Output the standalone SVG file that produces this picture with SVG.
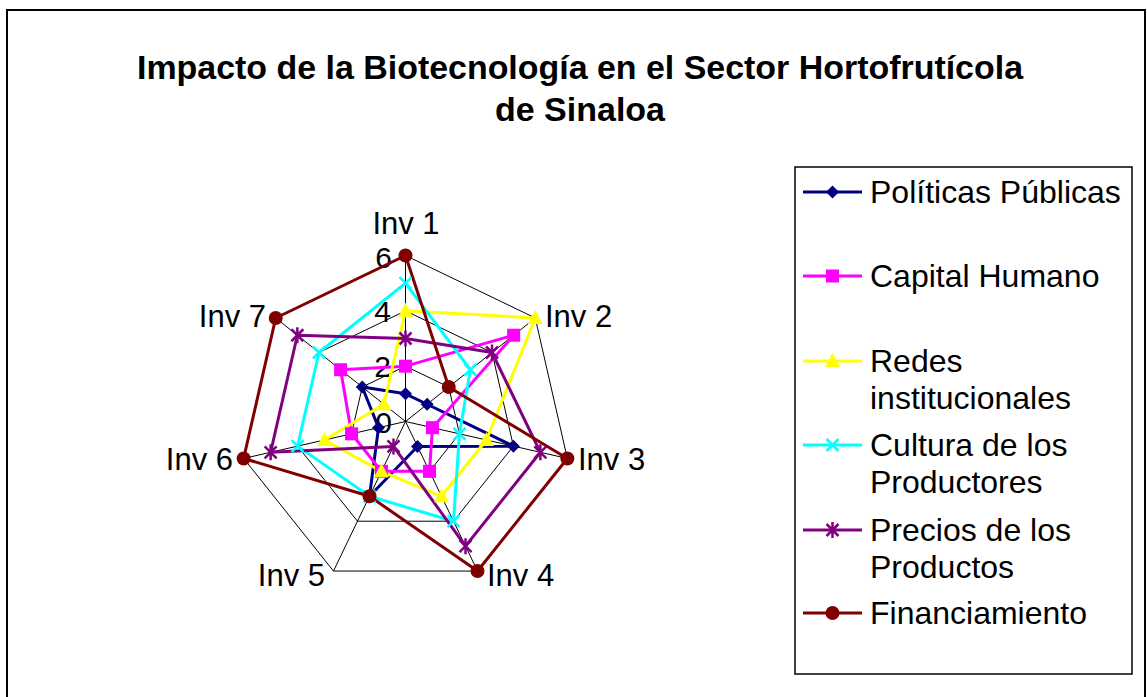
<svg xmlns="http://www.w3.org/2000/svg" xmlns:xlink="http://www.w3.org/1999/xlink" width="1147" height="697" viewBox="0 0 1147 697">
<style>
.t{font-family:"Liberation Sans",Arial,sans-serif;fill:#000}
.title{font-size:34px;font-weight:bold;text-anchor:middle}
.ax{font-size:31px}
.val{font-size:30px;text-anchor:end}
.lg{font-size:32px}
.grid{fill:none;stroke:#000;stroke-width:1}
.s{fill:none;stroke-width:3;stroke-linejoin:round}
</style>
<defs>
<polygon id="m-dia" points="0,-6.5 6.5,0 0,6.5 -6.5,0" fill="#000080"/>
<rect id="m-sq" x="-6.5" y="-6.5" width="13" height="13" fill="#FF00FF"/>
<polygon id="m-tri" points="0,-8 7.5,6 -7.5,6" fill="#FFFF00"/>
<path id="m-x" d="M-6,-6L6,6M-6,6L6,-6" stroke="#00FFFF" stroke-width="2.5" fill="none"/>
<path id="m-ast" d="M-6,-6L6,6M-6,6L6,-6M0,-8L0,8" stroke="#800080" stroke-width="2.5" fill="none"/>
<circle id="m-cir" r="7" fill="#800000"/>
</defs>
<rect width="1147" height="697" fill="#fff"/>
<rect x="7" y="10" width="1138" height="700" fill="none" stroke="#000" stroke-width="2"/>
<g id="title" class="t title">
<text x="580" y="79" textLength="886" lengthAdjust="spacingAndGlyphs">Impacto de la Biotecnología en el Sector Hortofrutícola</text>
<text x="580" y="121">de Sinaloa</text>
</g>
<g id="grid">
<polygon class="grid" points="405.5,255.5 535.28,318 567.34,458.44 477.52,571.06 333.48,571.06 243.66,458.44 275.72,318"/>
<polygon class="grid" points="405.5,310.83 492.02,352.5 513.39,446.13 453.52,521.21 357.48,521.21 297.61,446.13 318.98,352.5"/>
<polygon class="grid" points="405.5,366.17 448.76,387 459.45,433.81 429.51,471.35 381.49,471.35 351.55,433.81 362.24,387"/>
<path class="grid" d="M405.5,421.5L405.5,255.5M405.5,421.5L535.28,318M405.5,421.5L567.34,458.44M405.5,421.5L477.52,571.06M405.5,421.5L333.48,571.06M405.5,421.5L243.66,458.44M405.5,421.5L275.72,318"/>
</g>
<g id="axis-labels" class="t ax">
<text x="406" y="234" text-anchor="middle">Inv 1</text>
<text x="545" y="327">Inv 2</text>
<text x="578" y="470">Inv 3</text>
<text x="487" y="586">Inv 4</text>
<text x="325" y="586" text-anchor="end">Inv 5</text>
<text x="233" y="470" text-anchor="end">Inv 6</text>
<text x="266" y="327" text-anchor="end">Inv 7</text>
</g>
<g id="value-labels" class="t val">
<text x="392" y="268">6</text>
<text x="391" y="322">4</text>
<text x="391" y="377">2</text>
<text x="392" y="433">0</text>
</g>
<g id="connectors">
<polygon id="s-politicas" class="s" stroke="#000080" points="405.5,393.83 427.13,404.25 513.39,446.13 417.5,446.43 369.49,496.28 378.53,427.66 362.24,387"/>
<polygon id="s-capital" class="s" stroke="#FF00FF" points="405.5,366.17 513.65,335.25 432.47,427.66 429.51,471.35 381.49,471.35 351.55,433.81 340.61,369.75"/>
<polygon id="s-redes" class="s" stroke="#FFFF00" points="405.5,310.83 535.28,318 486.42,439.97 441.51,496.28 381.49,471.35 324.58,439.97 383.87,404.25"/>
<polygon id="s-cultura" class="s" stroke="#00FFFF" points="405.5,283.17 470.39,369.75 459.45,433.81 453.52,521.21 369.49,496.28 297.61,446.13 318.98,352.5"/>
<polygon id="s-precios" class="s" stroke="#800080" points="405.5,338.5 492.02,352.5 540.36,452.28 465.52,546.13 393.5,446.43 270.64,452.28 297.35,335.25"/>
<polygon id="s-financ" class="s" stroke="#800000" points="405.5,255.5 448.76,387 567.34,458.44 477.52,571.06 369.49,496.28 243.66,458.44 275.72,318"/>
</g>
<g id="markers-politicas">
<use xlink:href="#m-dia" x="405.5" y="393.83"/><use xlink:href="#m-dia" x="427.13" y="404.25"/><use xlink:href="#m-dia" x="513.39" y="446.13"/><use xlink:href="#m-dia" x="417.5" y="446.43"/><use xlink:href="#m-dia" x="369.49" y="496.28"/><use xlink:href="#m-dia" x="378.53" y="427.66"/><use xlink:href="#m-dia" x="362.24" y="387"/>
</g>
<g id="markers-capital">
<use xlink:href="#m-sq" x="405.5" y="366.17"/><use xlink:href="#m-sq" x="513.65" y="335.25"/><use xlink:href="#m-sq" x="432.47" y="427.66"/><use xlink:href="#m-sq" x="429.51" y="471.35"/><use xlink:href="#m-sq" x="381.49" y="471.35"/><use xlink:href="#m-sq" x="351.55" y="433.81"/><use xlink:href="#m-sq" x="340.61" y="369.75"/>
</g>
<g id="markers-redes">
<use xlink:href="#m-tri" x="405.5" y="310.83"/><use xlink:href="#m-tri" x="535.28" y="318"/><use xlink:href="#m-tri" x="486.42" y="439.97"/><use xlink:href="#m-tri" x="441.51" y="496.28"/><use xlink:href="#m-tri" x="381.49" y="471.35"/><use xlink:href="#m-tri" x="324.58" y="439.97"/><use xlink:href="#m-tri" x="383.87" y="404.25"/>
</g>
<g id="markers-cultura">
<use xlink:href="#m-x" x="405.5" y="283.17"/><use xlink:href="#m-x" x="470.39" y="369.75"/><use xlink:href="#m-x" x="459.45" y="433.81"/><use xlink:href="#m-x" x="453.52" y="521.21"/><use xlink:href="#m-x" x="369.49" y="496.28"/><use xlink:href="#m-x" x="297.61" y="446.13"/><use xlink:href="#m-x" x="318.98" y="352.5"/>
</g>
<g id="markers-precios">
<use xlink:href="#m-ast" x="405.5" y="338.5"/><use xlink:href="#m-ast" x="492.02" y="352.5"/><use xlink:href="#m-ast" x="540.36" y="452.28"/><use xlink:href="#m-ast" x="465.52" y="546.13"/><use xlink:href="#m-ast" x="393.5" y="446.43"/><use xlink:href="#m-ast" x="270.64" y="452.28"/><use xlink:href="#m-ast" x="297.35" y="335.25"/>
</g>
<g id="markers-financ">
<use xlink:href="#m-cir" x="405.5" y="255.5"/><use xlink:href="#m-cir" x="448.76" y="387"/><use xlink:href="#m-cir" x="567.34" y="458.44"/><use xlink:href="#m-cir" x="477.52" y="571.06"/><use xlink:href="#m-cir" x="369.49" y="496.28"/><use xlink:href="#m-cir" x="243.66" y="458.44"/><use xlink:href="#m-cir" x="275.72" y="318"/>
</g>
<g id="legend">
<rect x="795" y="167" width="337" height="507" fill="#fff" stroke="#000" stroke-width="1.5"/>
<g id="leg-politicas"><line x1="803" y1="192" x2="862" y2="192" stroke="#000080" stroke-width="3"/><use xlink:href="#m-dia" x="832.5" y="192"/><text class="t lg" x="870" y="203">Políticas Públicas</text></g>
<g id="leg-capital"><line x1="803" y1="276" x2="862" y2="276" stroke="#FF00FF" stroke-width="3"/><use xlink:href="#m-sq" x="832.5" y="276"/><text class="t lg" x="870" y="287">Capital Humano</text></g>
<g id="leg-redes"><line x1="803" y1="361" x2="862" y2="361" stroke="#FFFF00" stroke-width="3"/><use xlink:href="#m-tri" x="832.5" y="361"/><text class="t lg" x="870" y="372">Redes</text><text class="t lg" x="870" y="409">institucionales</text></g>
<g id="leg-cultura"><line x1="803" y1="445" x2="862" y2="445" stroke="#00FFFF" stroke-width="3"/><use xlink:href="#m-x" x="832.5" y="445"/><text class="t lg" x="870" y="456">Cultura de los</text><text class="t lg" x="870" y="493">Productores</text></g>
<g id="leg-precios"><line x1="803" y1="530" x2="862" y2="530" stroke="#800080" stroke-width="3"/><use xlink:href="#m-ast" x="832.5" y="530"/><text class="t lg" x="870" y="541">Precios de los</text><text class="t lg" x="870" y="578">Productos</text></g>
<g id="leg-financ"><line x1="803" y1="613" x2="862" y2="613" stroke="#800000" stroke-width="3"/><use xlink:href="#m-cir" x="832.5" y="613"/><text class="t lg" x="870" y="624">Financiamiento</text></g>
</g>
</svg>
